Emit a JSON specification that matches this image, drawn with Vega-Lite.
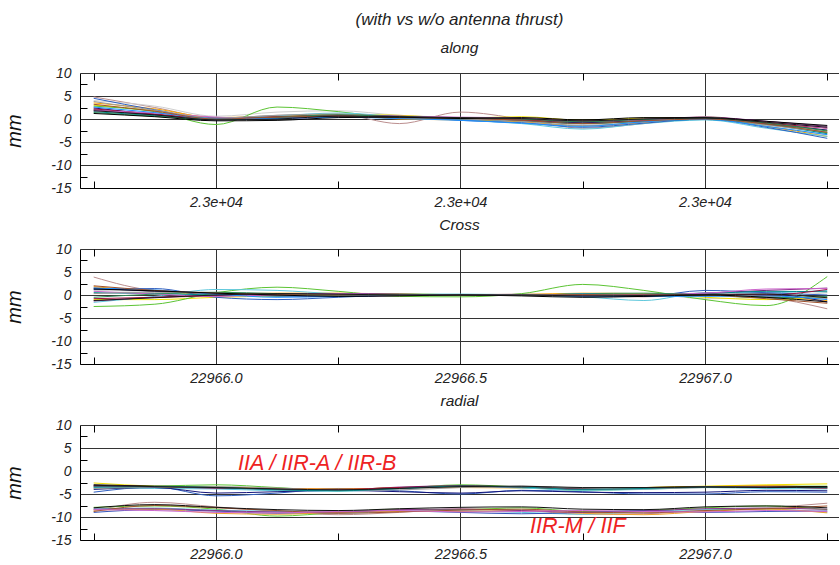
{
"$schema": "https://vega.github.io/schema/vega-lite/v6.json",
"padding": {"left": 4, "top": 10, "right": 0, "bottom": 0},
"spacing": 8,
"datasets": {
"along": [
{"s":"G01","x":22965.75,"y":4.8},{"s":"G01","x":22965.875,"y":2.5},{"s":"G01","x":22966,"y":0.2},{"s":"G01","x":22966.125,"y":0.8},{"s":"G01","x":22966.25,"y":1.0},{"s":"G01","x":22966.375,"y":-1.0},{"s":"G01","x":22966.5,"y":1.5},{"s":"G01","x":22966.625,"y":0.0},{"s":"G01","x":22966.75,"y":-2.0},{"s":"G01","x":22966.875,"y":-1.0},{"s":"G01","x":22967,"y":0.5},{"s":"G01","x":22967.125,"y":-1.0},{"s":"G01","x":22967.25,"y":-3.0},
{"s":"G02","x":22965.75,"y":4.0},{"s":"G02","x":22965.875,"y":2.8},{"s":"G02","x":22966,"y":0.6},{"s":"G02","x":22966.125,"y":1.5},{"s":"G02","x":22966.25,"y":1.8},{"s":"G02","x":22966.375,"y":0.8},{"s":"G02","x":22966.5,"y":0.3},{"s":"G02","x":22966.625,"y":-0.2},{"s":"G02","x":22966.75,"y":-1.2},{"s":"G02","x":22966.875,"y":-0.5},{"s":"G02","x":22967,"y":0.3},{"s":"G02","x":22967.125,"y":-1.5},{"s":"G02","x":22967.25,"y":-3.5},
{"s":"G03","x":22965.75,"y":3.5},{"s":"G03","x":22965.875,"y":2.2},{"s":"G03","x":22966,"y":0.3},{"s":"G03","x":22966.125,"y":0.6},{"s":"G03","x":22966.25,"y":0.9},{"s":"G03","x":22966.375,"y":0.0},{"s":"G03","x":22966.5,"y":-0.2},{"s":"G03","x":22966.625,"y":-0.6},{"s":"G03","x":22966.75,"y":-1.5},{"s":"G03","x":22966.875,"y":-0.8},{"s":"G03","x":22967,"y":0.0},{"s":"G03","x":22967.125,"y":-1.6},{"s":"G03","x":22967.25,"y":-3.8},
{"s":"G04","x":22965.75,"y":3.0},{"s":"G04","x":22965.875,"y":1.8},{"s":"G04","x":22966,"y":0.1},{"s":"G04","x":22966.125,"y":0.5},{"s":"G04","x":22966.25,"y":1.0},{"s":"G04","x":22966.375,"y":0.8},{"s":"G04","x":22966.5,"y":0.2},{"s":"G04","x":22966.625,"y":0.5},{"s":"G04","x":22966.75,"y":-0.3},{"s":"G04","x":22966.875,"y":0.2},{"s":"G04","x":22967,"y":0.3},{"s":"G04","x":22967.125,"y":-0.8},{"s":"G04","x":22967.25,"y":-2.5},
{"s":"G05","x":22965.75,"y":2.8},{"s":"G05","x":22965.875,"y":1.6},{"s":"G05","x":22966,"y":-1.2},{"s":"G05","x":22966.125,"y":2.6},{"s":"G05","x":22966.25,"y":1.6},{"s":"G05","x":22966.375,"y":0.2},{"s":"G05","x":22966.5,"y":0.1},{"s":"G05","x":22966.625,"y":-0.2},{"s":"G05","x":22966.75,"y":-0.9},{"s":"G05","x":22966.875,"y":-0.4},{"s":"G05","x":22967,"y":0.2},{"s":"G05","x":22967.125,"y":-1.0},{"s":"G05","x":22967.25,"y":-3.0},
{"s":"G06","x":22965.75,"y":2.0},{"s":"G06","x":22965.875,"y":0.8},{"s":"G06","x":22966,"y":0.2},{"s":"G06","x":22966.125,"y":0.7},{"s":"G06","x":22966.25,"y":1.3},{"s":"G06","x":22966.375,"y":0.5},{"s":"G06","x":22966.5,"y":-0.2},{"s":"G06","x":22966.625,"y":-1.0},{"s":"G06","x":22966.75,"y":-2.2},{"s":"G06","x":22966.875,"y":-1.0},{"s":"G06","x":22967,"y":-0.2},{"s":"G06","x":22967.125,"y":-2.0},{"s":"G06","x":22967.25,"y":-3.8},
{"s":"G07","x":22965.75,"y":4.5},{"s":"G07","x":22965.875,"y":2.0},{"s":"G07","x":22966,"y":0.0},{"s":"G07","x":22966.125,"y":0.2},{"s":"G07","x":22966.25,"y":0.5},{"s":"G07","x":22966.375,"y":0.6},{"s":"G07","x":22966.5,"y":-0.3},{"s":"G07","x":22966.625,"y":-0.8},{"s":"G07","x":22966.75,"y":-1.8},{"s":"G07","x":22966.875,"y":-0.9},{"s":"G07","x":22967,"y":0.0},{"s":"G07","x":22967.125,"y":-1.8},{"s":"G07","x":22967.25,"y":-4.2},
{"s":"G08","x":22965.75,"y":2.4},{"s":"G08","x":22965.875,"y":1.0},{"s":"G08","x":22966,"y":-0.2},{"s":"G08","x":22966.125,"y":0.2},{"s":"G08","x":22966.25,"y":0.6},{"s":"G08","x":22966.375,"y":0.2},{"s":"G08","x":22966.5,"y":0.0},{"s":"G08","x":22966.625,"y":-0.3},{"s":"G08","x":22966.75,"y":-0.8},{"s":"G08","x":22966.875,"y":-0.3},{"s":"G08","x":22967,"y":0.1},{"s":"G08","x":22967.125,"y":-1.0},{"s":"G08","x":22967.25,"y":-2.4},
{"s":"G09","x":22965.75,"y":2.0},{"s":"G09","x":22965.875,"y":0.9},{"s":"G09","x":22966,"y":0.3},{"s":"G09","x":22966.125,"y":0.4},{"s":"G09","x":22966.25,"y":0.9},{"s":"G09","x":22966.375,"y":0.6},{"s":"G09","x":22966.5,"y":0.2},{"s":"G09","x":22966.625,"y":0.0},{"s":"G09","x":22966.75,"y":-0.5},{"s":"G09","x":22966.875,"y":0.0},{"s":"G09","x":22967,"y":0.4},{"s":"G09","x":22967.125,"y":-0.5},{"s":"G09","x":22967.25,"y":-1.6},
{"s":"G10","x":22965.75,"y":1.6},{"s":"G10","x":22965.875,"y":0.7},{"s":"G10","x":22966,"y":-0.1},{"s":"G10","x":22966.125,"y":0.3},{"s":"G10","x":22966.25,"y":0.7},{"s":"G10","x":22966.375,"y":0.3},{"s":"G10","x":22966.5,"y":0.0},{"s":"G10","x":22966.625,"y":-0.4},{"s":"G10","x":22966.75,"y":-1.0},{"s":"G10","x":22966.875,"y":-0.5},{"s":"G10","x":22967,"y":-0.1},{"s":"G10","x":22967.125,"y":-1.2},{"s":"G10","x":22967.25,"y":-3.2},
{"s":"G11","x":22965.75,"y":2.2},{"s":"G11","x":22965.875,"y":1.1},{"s":"G11","x":22966,"y":0.0},{"s":"G11","x":22966.125,"y":0.5},{"s":"G11","x":22966.25,"y":0.8},{"s":"G11","x":22966.375,"y":0.5},{"s":"G11","x":22966.5,"y":0.1},{"s":"G11","x":22966.625,"y":-0.2},{"s":"G11","x":22966.75,"y":-0.6},{"s":"G11","x":22966.875,"y":-0.2},{"s":"G11","x":22967,"y":0.2},{"s":"G11","x":22967.125,"y":-0.9},{"s":"G11","x":22967.25,"y":-2.0},
{"s":"G12","x":22965.75,"y":1.8},{"s":"G12","x":22965.875,"y":1.3},{"s":"G12","x":22966,"y":0.4},{"s":"G12","x":22966.125,"y":0.1},{"s":"G12","x":22966.25,"y":0.4},{"s":"G12","x":22966.375,"y":0.6},{"s":"G12","x":22966.5,"y":0.4},{"s":"G12","x":22966.625,"y":0.2},{"s":"G12","x":22966.75,"y":-0.4},{"s":"G12","x":22966.875,"y":-0.2},{"s":"G12","x":22967,"y":0.1},{"s":"G12","x":22967.125,"y":-0.6},{"s":"G12","x":22967.25,"y":-2.0},
{"s":"G13","x":22965.75,"y":3.8},{"s":"G13","x":22965.875,"y":1.9},{"s":"G13","x":22966,"y":0.2},{"s":"G13","x":22966.125,"y":0.8},{"s":"G13","x":22966.25,"y":1.1},{"s":"G13","x":22966.375,"y":0.1},{"s":"G13","x":22966.5,"y":0.0},{"s":"G13","x":22966.625,"y":-0.5},{"s":"G13","x":22966.75,"y":-1.4},{"s":"G13","x":22966.875,"y":-0.7},{"s":"G13","x":22967,"y":0.4},{"s":"G13","x":22967.125,"y":-1.3},{"s":"G13","x":22967.25,"y":-2.8},
{"s":"G14","x":22965.75,"y":1.4},{"s":"G14","x":22965.875,"y":0.6},{"s":"G14","x":22966,"y":0.0},{"s":"G14","x":22966.125,"y":0.4},{"s":"G14","x":22966.25,"y":0.9},{"s":"G14","x":22966.375,"y":0.5},{"s":"G14","x":22966.5,"y":0.2},{"s":"G14","x":22966.625,"y":0.0},{"s":"G14","x":22966.75,"y":-0.6},{"s":"G14","x":22966.875,"y":-0.1},{"s":"G14","x":22967,"y":0.2},{"s":"G14","x":22967.125,"y":-0.9},{"s":"G14","x":22967.25,"y":-2.6},
{"s":"G15","x":22965.75,"y":2.6},{"s":"G15","x":22965.875,"y":1.4},{"s":"G15","x":22966,"y":0.1},{"s":"G15","x":22966.125,"y":0.1},{"s":"G15","x":22966.25,"y":0.4},{"s":"G15","x":22966.375,"y":0.1},{"s":"G15","x":22966.5,"y":-0.3},{"s":"G15","x":22966.625,"y":-0.9},{"s":"G15","x":22966.75,"y":-1.6},{"s":"G15","x":22966.875,"y":-0.6},{"s":"G15","x":22967,"y":-0.1},{"s":"G15","x":22967.125,"y":-1.6},{"s":"G15","x":22967.25,"y":-3.4},
{"s":"G16","x":22965.75,"y":3.2},{"s":"G16","x":22965.875,"y":1.7},{"s":"G16","x":22966,"y":0.0},{"s":"G16","x":22966.125,"y":0.4},{"s":"G16","x":22966.25,"y":0.6},{"s":"G16","x":22966.375,"y":0.3},{"s":"G16","x":22966.5,"y":0.2},{"s":"G16","x":22966.625,"y":-0.3},{"s":"G16","x":22966.75,"y":-1.0},{"s":"G16","x":22966.875,"y":-0.4},{"s":"G16","x":22967,"y":0.0},{"s":"G16","x":22967.125,"y":-1.1},{"s":"G16","x":22967.25,"y":-2.9},
{"s":"G17","x":22965.75,"y":1.2},{"s":"G17","x":22965.875,"y":0.5},{"s":"G17","x":22966,"y":-0.4},{"s":"G17","x":22966.125,"y":-0.3},{"s":"G17","x":22966.25,"y":0.3},{"s":"G17","x":22966.375,"y":0.4},{"s":"G17","x":22966.5,"y":0.1},{"s":"G17","x":22966.625,"y":0.3},{"s":"G17","x":22966.75,"y":-0.2},{"s":"G17","x":22966.875,"y":0.3},{"s":"G17","x":22967,"y":0.3},{"s":"G17","x":22967.125,"y":-0.5},{"s":"G17","x":22967.25,"y":-1.4},
{"s":"G18","x":22965.75,"y":1.8},{"s":"G18","x":22965.875,"y":0.9},{"s":"G18","x":22966,"y":-0.2},{"s":"G18","x":22966.125,"y":0.0},{"s":"G18","x":22966.25,"y":0.6},{"s":"G18","x":22966.375,"y":0.5},{"s":"G18","x":22966.5,"y":0.3},{"s":"G18","x":22966.625,"y":0.1},{"s":"G18","x":22966.75,"y":-0.4},{"s":"G18","x":22966.875,"y":0.0},{"s":"G18","x":22967,"y":0.2},{"s":"G18","x":22967.125,"y":-0.7},{"s":"G18","x":22967.25,"y":-1.8}
],
"cross": [
{"s":"G01","x":22965.75,"y":3.9},{"s":"G01","x":22965.875,"y":1.0},{"s":"G01","x":22966,"y":0.5},{"s":"G01","x":22966.125,"y":0.2},{"s":"G01","x":22966.25,"y":0.0},{"s":"G01","x":22966.375,"y":-0.2},{"s":"G01","x":22966.5,"y":0.0},{"s":"G01","x":22966.625,"y":0.2},{"s":"G01","x":22966.75,"y":0.0},{"s":"G01","x":22966.875,"y":-0.4},{"s":"G01","x":22967,"y":0.2},{"s":"G01","x":22967.125,"y":-0.5},{"s":"G01","x":22967.25,"y":-3.0},
{"s":"G02","x":22965.75,"y":1.0},{"s":"G02","x":22965.875,"y":0.8},{"s":"G02","x":22966,"y":0.5},{"s":"G02","x":22966.125,"y":0.3},{"s":"G02","x":22966.25,"y":0.2},{"s":"G02","x":22966.375,"y":0.0},{"s":"G02","x":22966.5,"y":0.0},{"s":"G02","x":22966.625,"y":0.0},{"s":"G02","x":22966.75,"y":0.3},{"s":"G02","x":22966.875,"y":0.3},{"s":"G02","x":22967,"y":-0.8},{"s":"G02","x":22967.125,"y":-0.5},{"s":"G02","x":22967.25,"y":0.5},
{"s":"G03","x":22965.75,"y":1.8},{"s":"G03","x":22965.875,"y":0.8},{"s":"G03","x":22966,"y":0.2},{"s":"G03","x":22966.125,"y":0.4},{"s":"G03","x":22966.25,"y":0.4},{"s":"G03","x":22966.375,"y":0.2},{"s":"G03","x":22966.5,"y":0.0},{"s":"G03","x":22966.625,"y":0.1},{"s":"G03","x":22966.75,"y":0.4},{"s":"G03","x":22966.875,"y":0.3},{"s":"G03","x":22967,"y":0.2},{"s":"G03","x":22967.125,"y":-0.3},{"s":"G03","x":22967.25,"y":-1.2},
{"s":"G04","x":22965.75,"y":-1.0},{"s":"G04","x":22965.875,"y":-1.0},{"s":"G04","x":22966,"y":-0.5},{"s":"G04","x":22966.125,"y":-0.2},{"s":"G04","x":22966.25,"y":0.2},{"s":"G04","x":22966.375,"y":0.3},{"s":"G04","x":22966.5,"y":0.0},{"s":"G04","x":22966.625,"y":-0.1},{"s":"G04","x":22966.75,"y":0.2},{"s":"G04","x":22966.875,"y":0.3},{"s":"G04","x":22967,"y":-0.5},{"s":"G04","x":22967.125,"y":-1.0},{"s":"G04","x":22967.25,"y":-0.5},
{"s":"G05","x":22965.75,"y":-2.5},{"s":"G05","x":22965.875,"y":-2.0},{"s":"G05","x":22966,"y":0.5},{"s":"G05","x":22966.125,"y":1.7},{"s":"G05","x":22966.25,"y":0.8},{"s":"G05","x":22966.375,"y":-0.3},{"s":"G05","x":22966.5,"y":-0.4},{"s":"G05","x":22966.625,"y":0.3},{"s":"G05","x":22966.75,"y":2.3},{"s":"G05","x":22966.875,"y":1.0},{"s":"G05","x":22967,"y":-1.0},{"s":"G05","x":22967.125,"y":-2.3},{"s":"G05","x":22967.25,"y":4.0},
{"s":"G06","x":22965.75,"y":-1.6},{"s":"G06","x":22965.875,"y":-0.3},{"s":"G06","x":22966,"y":1.2},{"s":"G06","x":22966.125,"y":1.0},{"s":"G06","x":22966.25,"y":0.3},{"s":"G06","x":22966.375,"y":0.2},{"s":"G06","x":22966.5,"y":0.2},{"s":"G06","x":22966.625,"y":0.0},{"s":"G06","x":22966.75,"y":-0.4},{"s":"G06","x":22966.875,"y":-1.2},{"s":"G06","x":22967,"y":0.5},{"s":"G06","x":22967.125,"y":0.5},{"s":"G06","x":22967.25,"y":1.0},
{"s":"G07","x":22965.75,"y":1.2},{"s":"G07","x":22965.875,"y":1.4},{"s":"G07","x":22966,"y":-0.5},{"s":"G07","x":22966.125,"y":-1.0},{"s":"G07","x":22966.25,"y":-0.5},{"s":"G07","x":22966.375,"y":0.0},{"s":"G07","x":22966.5,"y":0.0},{"s":"G07","x":22966.625,"y":0.0},{"s":"G07","x":22966.75,"y":-0.3},{"s":"G07","x":22966.875,"y":-0.3},{"s":"G07","x":22967,"y":1.0},{"s":"G07","x":22967.125,"y":0.5},{"s":"G07","x":22967.25,"y":0.0},
{"s":"G08","x":22965.75,"y":1.5},{"s":"G08","x":22965.875,"y":0.8},{"s":"G08","x":22966,"y":0.3},{"s":"G08","x":22966.125,"y":-0.2},{"s":"G08","x":22966.25,"y":-0.3},{"s":"G08","x":22966.375,"y":-0.1},{"s":"G08","x":22966.5,"y":0.0},{"s":"G08","x":22966.625,"y":0.1},{"s":"G08","x":22966.75,"y":0.0},{"s":"G08","x":22966.875,"y":-0.3},{"s":"G08","x":22967,"y":0.0},{"s":"G08","x":22967.125,"y":0.2},{"s":"G08","x":22967.25,"y":-1.5},
{"s":"G09","x":22965.75,"y":-1.3},{"s":"G09","x":22965.875,"y":-0.5},{"s":"G09","x":22966,"y":0.0},{"s":"G09","x":22966.125,"y":0.2},{"s":"G09","x":22966.25,"y":0.3},{"s":"G09","x":22966.375,"y":0.2},{"s":"G09","x":22966.5,"y":0.0},{"s":"G09","x":22966.625,"y":0.0},{"s":"G09","x":22966.75,"y":0.1},{"s":"G09","x":22966.875,"y":0.0},{"s":"G09","x":22967,"y":0.4},{"s":"G09","x":22967.125,"y":1.0},{"s":"G09","x":22967.25,"y":1.5},
{"s":"G10","x":22965.75,"y":0.5},{"s":"G10","x":22965.875,"y":0.3},{"s":"G10","x":22966,"y":0.0},{"s":"G10","x":22966.125,"y":-0.2},{"s":"G10","x":22966.25,"y":0.0},{"s":"G10","x":22966.375,"y":0.1},{"s":"G10","x":22966.5,"y":0.0},{"s":"G10","x":22966.625,"y":0.0},{"s":"G10","x":22966.75,"y":0.2},{"s":"G10","x":22966.875,"y":0.1},{"s":"G10","x":22967,"y":0.3},{"s":"G10","x":22967.125,"y":0.8},{"s":"G10","x":22967.25,"y":0.7},
{"s":"G11","x":22965.75,"y":-0.8},{"s":"G11","x":22965.875,"y":-0.5},{"s":"G11","x":22966,"y":-0.2},{"s":"G11","x":22966.125,"y":0.0},{"s":"G11","x":22966.25,"y":0.1},{"s":"G11","x":22966.375,"y":0.0},{"s":"G11","x":22966.5,"y":0.0},{"s":"G11","x":22966.625,"y":-0.1},{"s":"G11","x":22966.75,"y":0.0},{"s":"G11","x":22966.875,"y":0.0},{"s":"G11","x":22967,"y":0.2},{"s":"G11","x":22967.125,"y":0.0},{"s":"G11","x":22967.25,"y":1.2},
{"s":"G12","x":22965.75,"y":0.8},{"s":"G12","x":22965.875,"y":0.2},{"s":"G12","x":22966,"y":-0.3},{"s":"G12","x":22966.125,"y":0.1},{"s":"G12","x":22966.25,"y":0.3},{"s":"G12","x":22966.375,"y":0.0},{"s":"G12","x":22966.5,"y":0.0},{"s":"G12","x":22966.625,"y":0.0},{"s":"G12","x":22966.75,"y":0.1},{"s":"G12","x":22966.875,"y":0.2},{"s":"G12","x":22967,"y":0.4},{"s":"G12","x":22967.125,"y":1.3},{"s":"G12","x":22967.25,"y":1.4},
{"s":"G13","x":22965.75,"y":0.3},{"s":"G13","x":22965.875,"y":0.6},{"s":"G13","x":22966,"y":0.4},{"s":"G13","x":22966.125,"y":0.0},{"s":"G13","x":22966.25,"y":-0.1},{"s":"G13","x":22966.375,"y":0.0},{"s":"G13","x":22966.5,"y":0.0},{"s":"G13","x":22966.625,"y":0.1},{"s":"G13","x":22966.75,"y":0.0},{"s":"G13","x":22966.875,"y":-0.1},{"s":"G13","x":22967,"y":0.1},{"s":"G13","x":22967.125,"y":-0.4},{"s":"G13","x":22967.25,"y":-0.7},
{"s":"G14","x":22965.75,"y":-0.5},{"s":"G14","x":22965.875,"y":0.2},{"s":"G14","x":22966,"y":0.6},{"s":"G14","x":22966.125,"y":0.3},{"s":"G14","x":22966.25,"y":0.0},{"s":"G14","x":22966.375,"y":0.1},{"s":"G14","x":22966.5,"y":0.0},{"s":"G14","x":22966.625,"y":-0.1},{"s":"G14","x":22966.75,"y":0.3},{"s":"G14","x":22966.875,"y":0.4},{"s":"G14","x":22967,"y":0.0},{"s":"G14","x":22967.125,"y":-0.6},{"s":"G14","x":22967.25,"y":-0.3},
{"s":"G15","x":22965.75,"y":1.5},{"s":"G15","x":22965.875,"y":1.1},{"s":"G15","x":22966,"y":0.2},{"s":"G15","x":22966.125,"y":-0.5},{"s":"G15","x":22966.25,"y":-0.3},{"s":"G15","x":22966.375,"y":0.0},{"s":"G15","x":22966.5,"y":0.1},{"s":"G15","x":22966.625,"y":0.0},{"s":"G15","x":22966.75,"y":0.2},{"s":"G15","x":22966.875,"y":-0.2},{"s":"G15","x":22967,"y":-0.3},{"s":"G15","x":22967.125,"y":-0.2},{"s":"G15","x":22967.25,"y":-1.0},
{"s":"G16","x":22965.75,"y":2.0},{"s":"G16","x":22965.875,"y":1.0},{"s":"G16","x":22966,"y":0.4},{"s":"G16","x":22966.125,"y":0.1},{"s":"G16","x":22966.25,"y":0.0},{"s":"G16","x":22966.375,"y":0.0},{"s":"G16","x":22966.5,"y":0.0},{"s":"G16","x":22966.625,"y":0.0},{"s":"G16","x":22966.75,"y":0.1},{"s":"G16","x":22966.875,"y":0.0},{"s":"G16","x":22967,"y":0.0},{"s":"G16","x":22967.125,"y":-0.8},{"s":"G16","x":22967.25,"y":-1.8},
{"s":"G17","x":22965.75,"y":1.3},{"s":"G17","x":22965.875,"y":0.9},{"s":"G17","x":22966,"y":0.4},{"s":"G17","x":22966.125,"y":0.0},{"s":"G17","x":22966.25,"y":-0.3},{"s":"G17","x":22966.375,"y":-0.2},{"s":"G17","x":22966.5,"y":0.0},{"s":"G17","x":22966.625,"y":-0.2},{"s":"G17","x":22966.75,"y":-0.5},{"s":"G17","x":22966.875,"y":-0.3},{"s":"G17","x":22967,"y":0.0},{"s":"G17","x":22967.125,"y":-0.5},{"s":"G17","x":22967.25,"y":-1.5},
{"s":"G18","x":22965.75,"y":-1.2},{"s":"G18","x":22965.875,"y":-0.6},{"s":"G18","x":22966,"y":0.0},{"s":"G18","x":22966.125,"y":0.3},{"s":"G18","x":22966.25,"y":0.2},{"s":"G18","x":22966.375,"y":0.0},{"s":"G18","x":22966.5,"y":0.0},{"s":"G18","x":22966.625,"y":0.0},{"s":"G18","x":22966.75,"y":-0.2},{"s":"G18","x":22966.875,"y":-0.1},{"s":"G18","x":22967,"y":0.1},{"s":"G18","x":22967.125,"y":0.2},{"s":"G18","x":22967.25,"y":-0.6}
],
"radial": [
{"s":"G04","x":22965.75,"y":-2.6},{"s":"G04","x":22965.875,"y":-3.3},{"s":"G04","x":22966,"y":-3.5},{"s":"G04","x":22966.125,"y":-3.8},{"s":"G04","x":22966.25,"y":-4.0},{"s":"G04","x":22966.375,"y":-3.6},{"s":"G04","x":22966.5,"y":-3.2},{"s":"G04","x":22966.625,"y":-3.5},{"s":"G04","x":22966.75,"y":-3.9},{"s":"G04","x":22966.875,"y":-3.6},{"s":"G04","x":22967,"y":-3.3},{"s":"G04","x":22967.125,"y":-3.0},{"s":"G04","x":22967.25,"y":-2.8},
{"s":"G17","x":22965.75,"y":-3.0},{"s":"G17","x":22965.875,"y":-3.3},{"s":"G17","x":22966,"y":-3.5},{"s":"G17","x":22966.125,"y":-4.0},{"s":"G17","x":22966.25,"y":-4.2},{"s":"G17","x":22966.375,"y":-3.7},{"s":"G17","x":22966.5,"y":-3.3},{"s":"G17","x":22966.625,"y":-3.4},{"s":"G17","x":22966.75,"y":-3.8},{"s":"G17","x":22966.875,"y":-3.6},{"s":"G17","x":22967,"y":-3.4},{"s":"G17","x":22967.125,"y":-3.4},{"s":"G17","x":22967.25,"y":-3.4},
{"s":"G07","x":22965.75,"y":-4.6},{"s":"G07","x":22965.875,"y":-3.5},{"s":"G07","x":22966,"y":-5.4},{"s":"G07","x":22966.125,"y":-4.8},{"s":"G07","x":22966.25,"y":-3.8},{"s":"G07","x":22966.375,"y":-4.3},{"s":"G07","x":22966.5,"y":-5.0},{"s":"G07","x":22966.625,"y":-4.2},{"s":"G07","x":22966.75,"y":-4.5},{"s":"G07","x":22966.875,"y":-5.0},{"s":"G07","x":22967,"y":-5.0},{"s":"G07","x":22967.125,"y":-4.5},{"s":"G07","x":22967.25,"y":-4.6},
{"s":"G05","x":22965.75,"y":-3.4},{"s":"G05","x":22965.875,"y":-3.3},{"s":"G05","x":22966,"y":-3.0},{"s":"G05","x":22966.125,"y":-3.6},{"s":"G05","x":22966.25,"y":-4.3},{"s":"G05","x":22966.375,"y":-3.8},{"s":"G05","x":22966.5,"y":-3.0},{"s":"G05","x":22966.625,"y":-3.5},{"s":"G05","x":22966.75,"y":-4.2},{"s":"G05","x":22966.875,"y":-3.9},{"s":"G05","x":22967,"y":-3.5},{"s":"G05","x":22967.125,"y":-3.3},{"s":"G05","x":22967.25,"y":-3.3},
{"s":"G09","x":22965.75,"y":-3.3},{"s":"G09","x":22965.875,"y":-3.5},{"s":"G09","x":22966,"y":-3.8},{"s":"G09","x":22966.125,"y":-3.9},{"s":"G09","x":22966.25,"y":-4.1},{"s":"G09","x":22966.375,"y":-3.5},{"s":"G09","x":22966.5,"y":-3.2},{"s":"G09","x":22966.625,"y":-3.6},{"s":"G09","x":22966.75,"y":-4.0},{"s":"G09","x":22966.875,"y":-3.7},{"s":"G09","x":22967,"y":-3.5},{"s":"G09","x":22967.125,"y":-3.3},{"s":"G09","x":22967.25,"y":-3.5},
{"s":"G03","x":22965.75,"y":-3.7},{"s":"G03","x":22965.875,"y":-3.6},{"s":"G03","x":22966,"y":-3.6},{"s":"G03","x":22966.125,"y":-3.8},{"s":"G03","x":22966.25,"y":-3.9},{"s":"G03","x":22966.375,"y":-3.7},{"s":"G03","x":22966.5,"y":-3.6},{"s":"G03","x":22966.625,"y":-3.7},{"s":"G03","x":22966.75,"y":-3.8},{"s":"G03","x":22966.875,"y":-3.6},{"s":"G03","x":22967,"y":-3.4},{"s":"G03","x":22967.125,"y":-3.2},{"s":"G03","x":22967.25,"y":-3.6},
{"s":"G06","x":22965.75,"y":-3.6},{"s":"G06","x":22965.875,"y":-3.8},{"s":"G06","x":22966,"y":-3.9},{"s":"G06","x":22966.125,"y":-4.3},{"s":"G06","x":22966.25,"y":-4.4},{"s":"G06","x":22966.375,"y":-3.9},{"s":"G06","x":22966.5,"y":-3.4},{"s":"G06","x":22966.625,"y":-3.7},{"s":"G06","x":22966.75,"y":-4.2},{"s":"G06","x":22966.875,"y":-4.0},{"s":"G06","x":22967,"y":-3.6},{"s":"G06","x":22967.125,"y":-3.8},{"s":"G06","x":22967.25,"y":-3.9},
{"s":"G11","x":22965.75,"y":-3.2},{"s":"G11","x":22965.875,"y":-3.4},{"s":"G11","x":22966,"y":-3.7},{"s":"G11","x":22966.125,"y":-3.9},{"s":"G11","x":22966.25,"y":-4.0},{"s":"G11","x":22966.375,"y":-3.6},{"s":"G11","x":22966.5,"y":-3.4},{"s":"G11","x":22966.625,"y":-3.5},{"s":"G11","x":22966.75,"y":-3.9},{"s":"G11","x":22966.875,"y":-3.8},{"s":"G11","x":22967,"y":-3.5},{"s":"G11","x":22967.125,"y":-3.5},{"s":"G11","x":22967.25,"y":-3.8},
{"s":"G13","x":22965.75,"y":-3.8},{"s":"G13","x":22965.875,"y":-3.5},{"s":"G13","x":22966,"y":-3.4},{"s":"G13","x":22966.125,"y":-3.7},{"s":"G13","x":22966.25,"y":-4.2},{"s":"G13","x":22966.375,"y":-4.1},{"s":"G13","x":22966.5,"y":-3.6},{"s":"G13","x":22966.625,"y":-3.3},{"s":"G13","x":22966.75,"y":-3.7},{"s":"G13","x":22966.875,"y":-3.9},{"s":"G13","x":22967,"y":-3.6},{"s":"G13","x":22967.125,"y":-3.5},{"s":"G13","x":22967.25,"y":-3.7},
{"s":"G08","x":22965.75,"y":-4.0},{"s":"G08","x":22965.875,"y":-3.6},{"s":"G08","x":22966,"y":-4.8},{"s":"G08","x":22966.125,"y":-4.5},{"s":"G08","x":22966.25,"y":-4.2},{"s":"G08","x":22966.375,"y":-4.5},{"s":"G08","x":22966.5,"y":-4.8},{"s":"G08","x":22966.625,"y":-4.3},{"s":"G08","x":22966.75,"y":-4.6},{"s":"G08","x":22966.875,"y":-4.7},{"s":"G08","x":22967,"y":-4.6},{"s":"G08","x":22967.125,"y":-4.2},{"s":"G08","x":22967.25,"y":-4.3},
{"s":"G10","x":22965.75,"y":-3.5},{"s":"G10","x":22965.875,"y":-3.4},{"s":"G10","x":22966,"y":-3.6},{"s":"G10","x":22966.125,"y":-4.1},{"s":"G10","x":22966.25,"y":-4.3},{"s":"G10","x":22966.375,"y":-3.8},{"s":"G10","x":22966.5,"y":-3.3},{"s":"G10","x":22966.625,"y":-3.5},{"s":"G10","x":22966.75,"y":-4.0},{"s":"G10","x":22966.875,"y":-3.8},{"s":"G10","x":22967,"y":-3.5},{"s":"G10","x":22967.125,"y":-3.6},{"s":"G10","x":22967.25,"y":-3.6},
{"s":"G18","x":22965.75,"y":-3.1},{"s":"G18","x":22965.875,"y":-3.4},{"s":"G18","x":22966,"y":-3.6},{"s":"G18","x":22966.125,"y":-3.9},{"s":"G18","x":22966.25,"y":-4.1},{"s":"G18","x":22966.375,"y":-3.8},{"s":"G18","x":22966.5,"y":-3.4},{"s":"G18","x":22966.625,"y":-3.3},{"s":"G18","x":22966.75,"y":-3.6},{"s":"G18","x":22966.875,"y":-3.6},{"s":"G18","x":22967,"y":-3.5},{"s":"G18","x":22967.125,"y":-3.6},{"s":"G18","x":22967.25,"y":-3.5},
{"s":"G01","x":22965.75,"y":-8.7},{"s":"G01","x":22965.875,"y":-6.8},{"s":"G01","x":22966,"y":-7.8},{"s":"G01","x":22966.125,"y":-8.8},{"s":"G01","x":22966.25,"y":-9.5},{"s":"G01","x":22966.375,"y":-9.0},{"s":"G01","x":22966.5,"y":-8.2},{"s":"G01","x":22966.625,"y":-8.5},{"s":"G01","x":22966.75,"y":-9.4},{"s":"G01","x":22966.875,"y":-9.3},{"s":"G01","x":22967,"y":-8.5},{"s":"G01","x":22967.125,"y":-8.0},{"s":"G01","x":22967.25,"y":-7.0},
{"s":"G19","x":22965.75,"y":-7.9},{"s":"G19","x":22965.875,"y":-7.6},{"s":"G19","x":22966,"y":-8.3},{"s":"G19","x":22966.125,"y":-9.8},{"s":"G19","x":22966.25,"y":-9.0},{"s":"G19","x":22966.375,"y":-8.3},{"s":"G19","x":22966.5,"y":-8.4},{"s":"G19","x":22966.625,"y":-8.0},{"s":"G19","x":22966.75,"y":-8.8},{"s":"G19","x":22966.875,"y":-8.6},{"s":"G19","x":22967,"y":-8.0},{"s":"G19","x":22967.125,"y":-7.6},{"s":"G19","x":22967.25,"y":-8.4},
{"s":"G20","x":22965.75,"y":-8.2},{"s":"G20","x":22965.875,"y":-8.1},{"s":"G20","x":22966,"y":-8.5},{"s":"G20","x":22966.125,"y":-8.8},{"s":"G20","x":22966.25,"y":-9.2},{"s":"G20","x":22966.375,"y":-8.8},{"s":"G20","x":22966.5,"y":-8.7},{"s":"G20","x":22966.625,"y":-9.0},{"s":"G20","x":22966.75,"y":-9.4},{"s":"G20","x":22966.875,"y":-8.8},{"s":"G20","x":22967,"y":-8.4},{"s":"G20","x":22967.125,"y":-8.3},{"s":"G20","x":22967.25,"y":-9.0},
{"s":"G21","x":22965.75,"y":-9.0},{"s":"G21","x":22965.875,"y":-8.4},{"s":"G21","x":22966,"y":-8.7},{"s":"G21","x":22966.125,"y":-9.2},{"s":"G21","x":22966.25,"y":-9.0},{"s":"G21","x":22966.375,"y":-8.7},{"s":"G21","x":22966.5,"y":-9.0},{"s":"G21","x":22966.625,"y":-9.3},{"s":"G21","x":22966.75,"y":-9.0},{"s":"G21","x":22966.875,"y":-8.6},{"s":"G21","x":22967,"y":-9.0},{"s":"G21","x":22967.125,"y":-8.8},{"s":"G21","x":22967.25,"y":-8.7},
{"s":"G22","x":22965.75,"y":-8.5},{"s":"G22","x":22965.875,"y":-8.3},{"s":"G22","x":22966,"y":-9.2},{"s":"G22","x":22966.125,"y":-9.4},{"s":"G22","x":22966.25,"y":-9.0},{"s":"G22","x":22966.375,"y":-8.8},{"s":"G22","x":22966.5,"y":-8.8},{"s":"G22","x":22966.625,"y":-8.6},{"s":"G22","x":22966.75,"y":-9.2},{"s":"G22","x":22966.875,"y":-9.5},{"s":"G22","x":22967,"y":-8.8},{"s":"G22","x":22967.125,"y":-8.3},{"s":"G22","x":22967.25,"y":-9.1},
{"s":"G02","x":22965.75,"y":-8.6},{"s":"G02","x":22965.875,"y":-8.0},{"s":"G02","x":22966,"y":-8.8},{"s":"G02","x":22966.125,"y":-9.0},{"s":"G02","x":22966.25,"y":-8.7},{"s":"G02","x":22966.375,"y":-8.5},{"s":"G02","x":22966.5,"y":-8.6},{"s":"G02","x":22966.625,"y":-8.4},{"s":"G02","x":22966.75,"y":-8.8},{"s":"G02","x":22966.875,"y":-9.0},{"s":"G02","x":22967,"y":-8.4},{"s":"G02","x":22967.125,"y":-8.0},{"s":"G02","x":22967.25,"y":-8.5},
{"s":"G24","x":22965.75,"y":-8.3},{"s":"G24","x":22965.875,"y":-8.2},{"s":"G24","x":22966,"y":-8.6},{"s":"G24","x":22966.125,"y":-8.9},{"s":"G24","x":22966.25,"y":-8.9},{"s":"G24","x":22966.375,"y":-8.4},{"s":"G24","x":22966.5,"y":-8.3},{"s":"G24","x":22966.625,"y":-8.6},{"s":"G24","x":22966.75,"y":-9.0},{"s":"G24","x":22966.875,"y":-8.7},{"s":"G24","x":22967,"y":-8.2},{"s":"G24","x":22967.125,"y":-8.1},{"s":"G24","x":22967.25,"y":-8.3},
{"s":"G16","x":22965.75,"y":-8.8},{"s":"G16","x":22965.875,"y":-7.5},{"s":"G16","x":22966,"y":-8.0},{"s":"G16","x":22966.125,"y":-8.6},{"s":"G16","x":22966.25,"y":-9.2},{"s":"G16","x":22966.375,"y":-8.9},{"s":"G16","x":22966.5,"y":-8.5},{"s":"G16","x":22966.625,"y":-8.3},{"s":"G16","x":22966.75,"y":-8.9},{"s":"G16","x":22966.875,"y":-9.1},{"s":"G16","x":22967,"y":-8.6},{"s":"G16","x":22967.125,"y":-8.2},{"s":"G16","x":22967.25,"y":-7.6},
{"s":"G12","x":22965.75,"y":-8.4},{"s":"G12","x":22965.875,"y":-8.6},{"s":"G12","x":22966,"y":-9.0},{"s":"G12","x":22966.125,"y":-9.1},{"s":"G12","x":22966.25,"y":-8.8},{"s":"G12","x":22966.375,"y":-8.6},{"s":"G12","x":22966.5,"y":-8.9},{"s":"G12","x":22966.625,"y":-8.8},{"s":"G12","x":22966.75,"y":-8.6},{"s":"G12","x":22966.875,"y":-8.8},{"s":"G12","x":22967,"y":-8.9},{"s":"G12","x":22967.125,"y":-8.6},{"s":"G12","x":22967.25,"y":-8.8},
{"s":"G23","x":22965.75,"y":-8.0},{"s":"G23","x":22965.875,"y":-7.3},{"s":"G23","x":22966,"y":-7.9},{"s":"G23","x":22966.125,"y":-8.4},{"s":"G23","x":22966.25,"y":-8.6},{"s":"G23","x":22966.375,"y":-8.2},{"s":"G23","x":22966.5,"y":-7.9},{"s":"G23","x":22966.625,"y":-7.8},{"s":"G23","x":22966.75,"y":-8.3},{"s":"G23","x":22966.875,"y":-8.4},{"s":"G23","x":22967,"y":-7.8},{"s":"G23","x":22967.125,"y":-7.6},{"s":"G23","x":22967.25,"y":-8.0}
],
"labels": [
{"x":22966.207,"y":1.5,"t":"IIA / IIR-A / IIR-B"},
{"x":22966.74,"y":-12.2,"t":"IIR-M / IIF"}
]
},
"vconcat": [
{
"title": {"text": "(with vs w/o antenna thrust)", "subtitle": "along", "fontSize": 17, "subtitlePadding": 12},
"width": 759, "height": 115,
"data": {"name": "along"},
"encoding": {
"y": {"field": "y", "type": "quantitative", "scale": {"domain": [-15, 10], "nice": false, "zero": false},
"axis": {"title": "mm", "titleFontSize": 20, "titleFontStyle": "italic", "titleFontWeight": "normal", "titleColor": "#111", "titlePadding": 26, "values": [-15,-12.5,-10,-7.5,-5,-2.5,0,2.5,5,7.5,10], "labelExpr": "datum.value % 5 == 0 ? toString(datum.value) : ''", "grid": true, "gridOpacity": {"condition": {"test": "datum.value % 5 == 0", "value": 1}, "value": 0}, "tickSize": -7, "tickOpacity": {"condition": {"test": "datum.value % 5 == 0", "value": 0}, "value": 1}, "labelPadding": 16}},
"color": {"field": "s", "type": "nominal", "legend": null, "scale": {"domain": ["G01","G02","G03","G04","G05","G06","G07","G08","G09","G10","G11","G12","G13","G14","G15","G16","G17","G18","G19","G20","G21","G22","G23","G24"], "range": ["#bc8f8f","#cfcfcf","#ffa500","#f0e000","#5cc434","#5fc8dc","#2f5fc0","#14147a","#7a1a7a","#008b8b","#a01040","#cc66cc","#9a9a9a","#2e8b57","#1e90ff","#a0522d","#000000","#1a1a1a","#66cc33","#66ccdd","#3355bb","#f0a030","#111111","#883388"]}}
},
"layer": [
{"transform": [{"filter": "datum.s < 'G10'"}], "mark": {"type": "line", "interpolate": "monotone", "strokeWidth": 1, "clip": true},
"encoding": {"x": {"field": "x", "type": "quantitative", "scale": {"domain": [22965.722, 22967.274], "nice": false, "zero": false},
"axis": {"orient": "bottom", "title": null, "values": [22965.75,22966,22966.25,22966.5,22966.75,22967,22967.25], "labelExpr": "datum.value % 0.5 == 0 ? replace(format(datum.value, '.1e'), 'e+', 'e+0') : ''", "grid": true, "gridOpacity": {"condition": {"test": "datum.value % 0.5 == 0", "value": 1}, "value": 0}, "tickSize": -7, "tickOpacity": {"condition": {"test": "datum.value % 0.5 == 0", "value": 0}, "value": 1}, "labelPadding": 14, "labelFontSize": 14.5}}}},
{"transform": [{"filter": "datum.s >= 'G10'"}], "mark": {"type": "line", "interpolate": "monotone", "strokeWidth": 1, "clip": true},
"encoding": {"x": {"field": "x", "type": "quantitative", "scale": {"domain": [22965.722, 22967.274], "nice": false, "zero": false},
"axis": {"orient": "top", "title": null, "values": [22965.75,22966.25,22966.75,22967.25], "labels": false, "grid": false, "domain": false, "tickSize": -7}}}}
],
"resolve": {"axis": {"x": "independent"}}
},
{
"title": {"text": "Cross"},
"width": 759, "height": 115,
"data": {"name": "cross"},
"encoding": {
"y": {"field": "y", "type": "quantitative", "scale": {"domain": [-15, 10], "nice": false, "zero": false},
"axis": {"title": "mm", "titleFontSize": 20, "titleFontStyle": "italic", "titleFontWeight": "normal", "titleColor": "#111", "titlePadding": 26, "values": [-15,-12.5,-10,-7.5,-5,-2.5,0,2.5,5,7.5,10], "labelExpr": "datum.value % 5 == 0 ? toString(datum.value) : ''", "grid": true, "gridOpacity": {"condition": {"test": "datum.value % 5 == 0", "value": 1}, "value": 0}, "tickSize": -7, "tickOpacity": {"condition": {"test": "datum.value % 5 == 0", "value": 0}, "value": 1}, "labelPadding": 16}},
"color": {"field": "s", "type": "nominal", "legend": null, "scale": {"domain": ["G01","G02","G03","G04","G05","G06","G07","G08","G09","G10","G11","G12","G13","G14","G15","G16","G17","G18","G19","G20","G21","G22","G23","G24"], "range": ["#bc8f8f","#cfcfcf","#ffa500","#f0e000","#5cc434","#5fc8dc","#2f5fc0","#14147a","#7a1a7a","#008b8b","#a01040","#cc66cc","#9a9a9a","#2e8b57","#1e90ff","#a0522d","#000000","#1a1a1a","#66cc33","#66ccdd","#3355bb","#f0a030","#111111","#883388"]}}
},
"layer": [
{"transform": [{"filter": "datum.s < 'G10'"}], "mark": {"type": "line", "interpolate": "monotone", "strokeWidth": 1, "clip": true},
"encoding": {"x": {"field": "x", "type": "quantitative", "scale": {"domain": [22965.722, 22967.274], "nice": false, "zero": false},
"axis": {"orient": "bottom", "title": null, "values": [22965.75,22966,22966.25,22966.5,22966.75,22967,22967.25], "labelExpr": "datum.value % 0.5 == 0 ? format(datum.value, '.1f') : ''", "grid": true, "gridOpacity": {"condition": {"test": "datum.value % 0.5 == 0", "value": 1}, "value": 0}, "tickSize": -7, "tickOpacity": {"condition": {"test": "datum.value % 0.5 == 0", "value": 0}, "value": 1}, "labelPadding": 14, "labelFontSize": 14.5}}}},
{"transform": [{"filter": "datum.s >= 'G10'"}], "mark": {"type": "line", "interpolate": "monotone", "strokeWidth": 1, "clip": true},
"encoding": {"x": {"field": "x", "type": "quantitative", "scale": {"domain": [22965.722, 22967.274], "nice": false, "zero": false},
"axis": {"orient": "top", "title": null, "values": [22965.75,22966.25,22966.75,22967.25], "labels": false, "grid": false, "domain": false, "tickSize": -7}}}}
],
"resolve": {"axis": {"x": "independent"}}
},
{
"title": {"text": "radial"},
"width": 759, "height": 115,
"data": {"name": "radial"},
"encoding": {
"y": {"field": "y", "type": "quantitative", "scale": {"domain": [-15, 10], "nice": false, "zero": false},
"axis": {"title": "mm", "titleFontSize": 20, "titleFontStyle": "italic", "titleFontWeight": "normal", "titleColor": "#111", "titlePadding": 26, "values": [-15,-12.5,-10,-7.5,-5,-2.5,0,2.5,5,7.5,10], "labelExpr": "datum.value % 5 == 0 ? toString(datum.value) : ''", "grid": true, "gridOpacity": {"condition": {"test": "datum.value % 5 == 0", "value": 1}, "value": 0}, "tickSize": -7, "tickOpacity": {"condition": {"test": "datum.value % 5 == 0", "value": 0}, "value": 1}, "labelPadding": 16}},
"color": {"field": "s", "type": "nominal", "legend": null, "scale": {"domain": ["G01","G02","G03","G04","G05","G06","G07","G08","G09","G10","G11","G12","G13","G14","G15","G16","G17","G18","G19","G20","G21","G22","G23","G24"], "range": ["#bc8f8f","#cfcfcf","#ffa500","#f0e000","#5cc434","#5fc8dc","#2f5fc0","#14147a","#7a1a7a","#008b8b","#a01040","#cc66cc","#9a9a9a","#2e8b57","#1e90ff","#a0522d","#000000","#1a1a1a","#66cc33","#66ccdd","#3355bb","#f0a030","#111111","#883388"]}}
},
"layer": [
{"transform": [{"filter": "datum.s < 'G10'"}], "mark": {"type": "line", "interpolate": "monotone", "strokeWidth": 1, "clip": true},
"encoding": {"x": {"field": "x", "type": "quantitative", "scale": {"domain": [22965.722, 22967.274], "nice": false, "zero": false},
"axis": {"orient": "bottom", "title": null, "values": [22965.75,22966,22966.25,22966.5,22966.75,22967,22967.25], "labelExpr": "datum.value % 0.5 == 0 ? format(datum.value, '.1f') : ''", "grid": true, "gridOpacity": {"condition": {"test": "datum.value % 0.5 == 0", "value": 1}, "value": 0}, "tickSize": -7, "tickOpacity": {"condition": {"test": "datum.value % 0.5 == 0", "value": 0}, "value": 1}, "labelPadding": 14, "labelFontSize": 14.5}}}},
{"transform": [{"filter": "datum.s >= 'G10'"}], "mark": {"type": "line", "interpolate": "monotone", "strokeWidth": 1, "clip": true},
"encoding": {"x": {"field": "x", "type": "quantitative", "scale": {"domain": [22965.722, 22967.274], "nice": false, "zero": false},
"axis": {"orient": "top", "title": null, "values": [22965.75,22966.25,22966.75,22967.25], "labels": false, "grid": false, "domain": false, "tickSize": -7}}}},
{"data": {"name": "labels"}, "mark": {"type": "text", "font": "Liberation Sans", "fontStyle": "italic", "fontSize": 21.5, "align": "center", "baseline": "middle"},
"encoding": {"x": {"field": "x", "type": "quantitative", "scale": {"domain": [22965.722, 22967.274], "nice": false, "zero": false}, "axis": null}, "text": {"field": "t"}, "color": {"value": "#ee2222"}}}
],
"resolve": {"axis": {"x": "independent"}}
}
],
"config": {
"view": {"stroke": null},
"font": "Liberation Sans",
"axis": {"labelFont": "Liberation Sans", "labelFontStyle": "italic", "labelFontSize": 14, "labelColor": "#222", "domainColor": "#000", "domainWidth": 1, "tickColor": "#000", "tickWidth": 1, "gridColor": "#333", "gridWidth": 1, "titleFont": "Liberation Sans"},
"title": {"font": "Liberation Sans", "fontStyle": "italic", "fontWeight": "normal", "fontSize": 15.5, "color": "#222", "anchor": "middle", "frame": "group", "offset": 9, "subtitleFont": "Liberation Sans", "subtitleFontStyle": "italic", "subtitleFontSize": 15.5, "subtitleColor": "#222"}
}
}
